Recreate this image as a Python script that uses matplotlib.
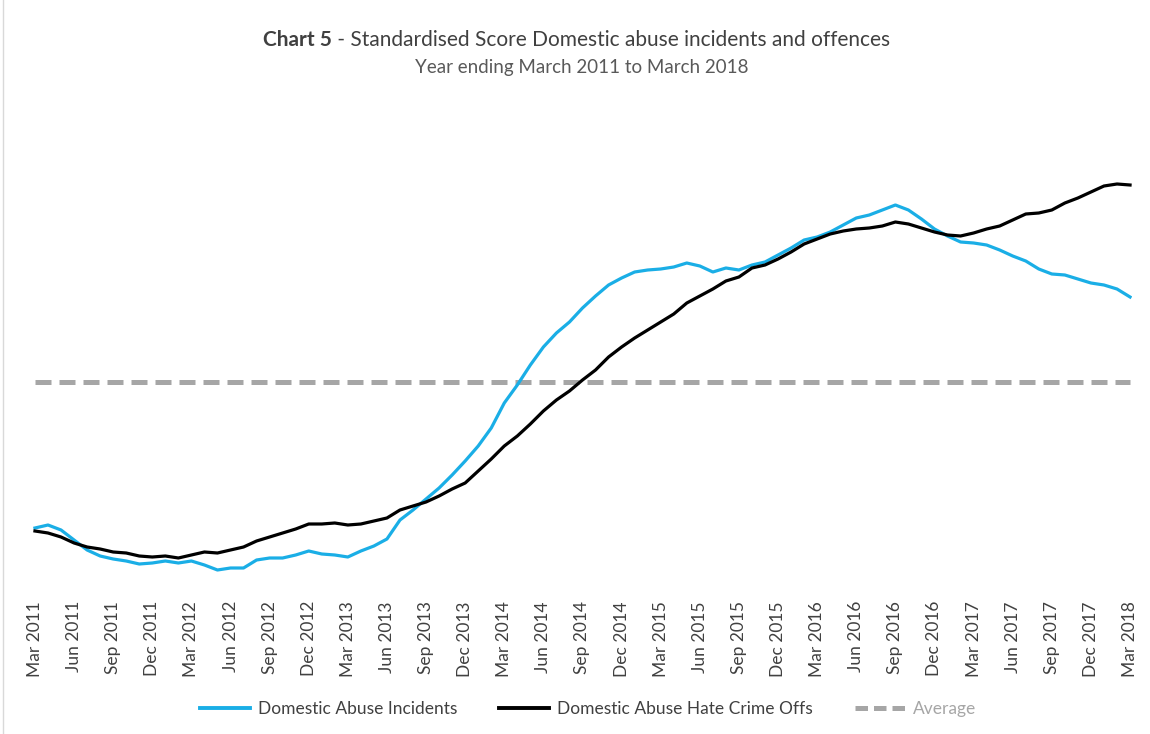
import numpy as np
import pandas as pd
import matplotlib
matplotlib.use("Agg")
import matplotlib.pyplot as plt
from matplotlib.lines import Line2D

plt.rcParams['font.family'] = ['Lato', 'DejaVu Sans']

# === Данные (стандартизированный балл, помесячно Mar 2011 - Mar 2018) ===
months = pd.date_range("2011-03-01", "2018-03-01", freq="MS")

incidents = [-1.46, -1.43, -1.48, -1.58, -1.68, -1.74, -1.77, -1.79, -1.82, -1.81,
             -1.79, -1.81, -1.79, -1.83, -1.88, -1.86, -1.86, -1.78, -1.76, -1.76,
             -1.73, -1.69, -1.72, -1.73, -1.75, -1.69, -1.64, -1.57, -1.38, -1.28,
             -1.17, -1.06, -0.93, -0.79, -0.64, -0.46, -0.21, -0.03, 0.17, 0.35,
             0.49, 0.60, 0.74, 0.86, 0.97, 1.04, 1.10, 1.12, 1.13, 1.15,
             1.19, 1.16, 1.10, 1.14, 1.12, 1.17, 1.20, 1.27, 1.34, 1.42,
             1.45, 1.50, 1.57, 1.64, 1.67, 1.72, 1.77, 1.72, 1.63, 1.53,
             1.46, 1.40, 1.39, 1.37, 1.32, 1.26, 1.21, 1.13, 1.08, 1.07,
             1.03, 0.99, 0.97, 0.93, 0.85]
hate_crime = [-1.49, -1.51, -1.55, -1.61, -1.65, -1.67, -1.70, -1.71, -1.74, -1.75,
              -1.74, -1.76, -1.73, -1.70, -1.71, -1.68, -1.65, -1.59, -1.55, -1.51,
              -1.47, -1.42, -1.42, -1.41, -1.43, -1.42, -1.39, -1.36, -1.28, -1.24,
              -1.20, -1.14, -1.07, -1.01, -0.89, -0.77, -0.64, -0.54, -0.42, -0.29,
              -0.18, -0.09, 0.02, 0.12, 0.25, 0.35, 0.44, 0.52, 0.60, 0.68,
              0.79, 0.86, 0.93, 1.01, 1.05, 1.14, 1.17, 1.23, 1.30, 1.38,
              1.43, 1.48, 1.51, 1.53, 1.54, 1.56, 1.60, 1.58, 1.54, 1.50,
              1.47, 1.46, 1.49, 1.53, 1.56, 1.62, 1.68, 1.69, 1.72, 1.79,
              1.84, 1.90, 1.96, 1.98, 1.97]
average = 0.0

x = np.arange(len(months))
tick_idx = x[::3]
tick_labels = [m.strftime("%b %Y") for m in months[::3]]

# === Построение ===
fig = plt.figure(figsize=(11.5, 7.34), dpi=100)
ax = fig.add_axes([33/1150, 1 - 590/734, (1132 - 33)/1150, 470/734])

ax.plot(x, [average]*len(x), color="#a6a6a6", lw=3.6, dashes=(3.2, 1.6),
        solid_capstyle="butt", dash_capstyle="butt", zorder=1)
ax.plot(x, incidents, color="#1aaee6", lw=2.3, zorder=2)
ax.plot(x, hate_crime, color="#000000", lw=2.3, zorder=3)

ax.set_xlim(-0.15, len(x) - 1 + 0.15)
ax.set_ylim(-2.08, 2.62)
ax.set_yticks([])
ax.set_xticks(tick_idx)
ax.set_xticklabels(tick_labels, rotation=90, fontsize=12.5, color="#404040")
ax.tick_params(axis="x", length=0, pad=8)
for s in ax.spines.values():
    s.set_visible(False)

# === Заголовок ===
t1 = fig.text(263/1150, 1 - 40/734, "Chart 5", ha="left", va="center",
              fontsize=15, fontweight="bold", color="#404040")
fig.canvas.draw()
bb = t1.get_window_extent()
fig.text(bb.x1 / 1150, 1 - 40/734, " - Standardised Score Domestic abuse incidents and offences",
         ha="left", va="center", fontsize=15, color="#404040")
fig.text(582/1150, 1 - 67/734, "Year ending March 2011 to March 2018",
         ha="center", va="center", fontsize=13.5, color="#595959")

# === Легенда ===
handles = [Line2D([], [], color="#1aaee6", lw=2.8),
           Line2D([], [], color="#000000", lw=2.8),
           Line2D([], [], color="#a6a6a6", lw=3.6, dashes=(2.5, 1.2))]
leg = fig.legend(handles, ["Domestic Abuse Incidents", "Domestic Abuse Hate Crime Offs", "Average"],
                 loc="center", bbox_to_anchor=(588/1150, 1 - 709/734), ncol=3, frameon=False,
                 fontsize=12.5, handlelength=2.9, handletextpad=0.45, columnspacing=2.4)
for t, c in zip(leg.get_texts(), ["#404040", "#404040", "#a6a6a6"]):
    t.set_color(c)

# рамка слева
fig.add_artist(Line2D([3/1150, 3/1150], [0, 1], color="#d9d9d9", lw=1))

plt.savefig("out.png", dpi=100)
plt.close()
